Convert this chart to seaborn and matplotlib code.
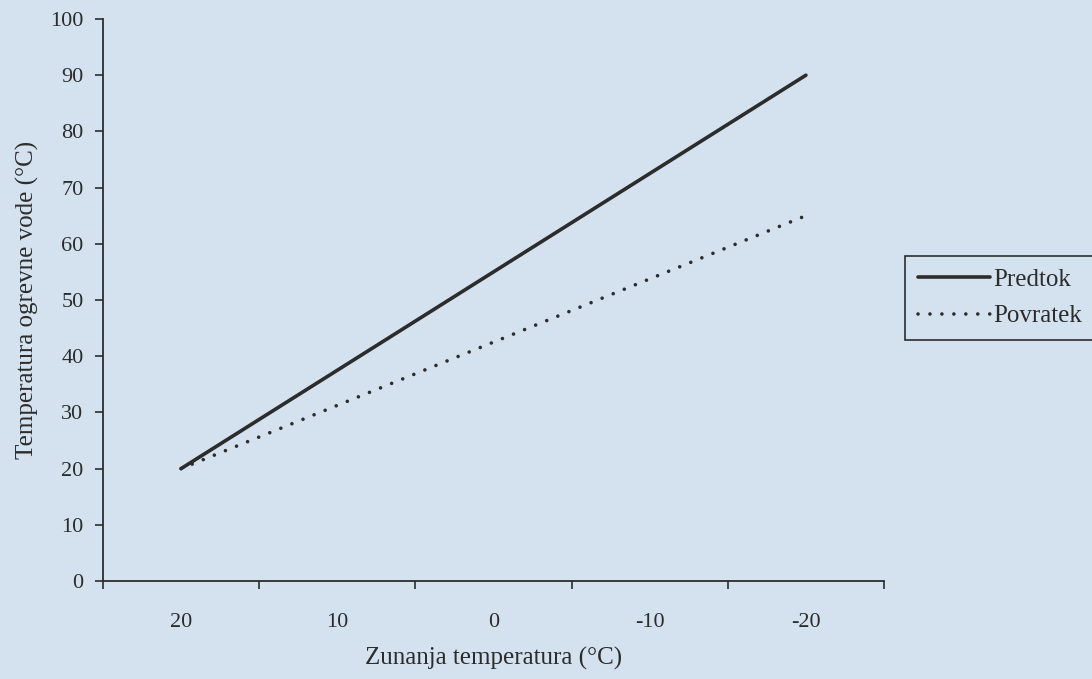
import pandas as pd
import seaborn as sns
import matplotlib.pyplot as plt

# outdoor temperature (categories, reversed axis) and water temperatures
zunanja = [20, 10, 0, -10, -20]
predtok = [20, 37.5, 55, 72.5, 90]
povratek = [20, 31.25, 42.5, 53.75, 65]

df = pd.DataFrame({
    'x': zunanja * 2,
    'y': predtok + povratek,
    'serija': ['Predtok'] * len(zunanja) + ['Povratek'] * len(zunanja),
})

bg = '#d4e2ef'
ink = '#2c2c2c'

sns.set_style('white')
plt.rcParams['font.family'] = ['Liberation Serif', 'DejaVu Serif']
plt.rcParams['lines.dash_capstyle'] = 'round'

fig = plt.figure(figsize=(10.92, 6.79), dpi=100, facecolor=bg)
ax = fig.add_axes([103 / 1092, 1 - 581 / 679, (884 - 103) / 1092, (581 - 19) / 679])
ax.set_facecolor(bg)

sns.lineplot(data=df, x='x', y='y', hue='serija', style='serija',
             palette={'Predtok': ink, 'Povratek': ink},
             dashes={'Predtok': '', 'Povratek': (0.01, 3.3)},
             linewidth=2.6, sort=False, ax=ax)

ax.set_xlim(25, -25)
ax.set_ylim(0, 100)
ax.set_yticks(range(0, 101, 10))
ax.set_xticks(zunanja)
ax.set_xticklabels([str(v) for v in zunanja])
ax.set_xticks([25, 15, 5, -5, -15, -25], minor=True)

ax.tick_params(axis='x', which='major', length=0, pad=23, labelsize=16, colors=ink)
ax.tick_params(axis='x', which='minor', length=6, width=1.2, direction='out', color=ink, bottom=True)
ax.tick_params(axis='y', length=6, width=1.2, direction='out', pad=8, labelsize=16, colors=ink, left=True)

for s in ['top', 'right']:
    ax.spines[s].set_visible(False)
for s in ['left', 'bottom']:
    ax.spines[s].set_color(ink)
    ax.spines[s].set_linewidth(1.3)

ax.set_xlabel('Zunanja temperatura (°C)', fontsize=18, color=ink, labelpad=11)
ax.set_ylabel('Temperatura ogrevne vode (°C)', fontsize=18, color=ink, labelpad=8)

handles, labels = ax.get_legend_handles_labels()
leg = ax.legend(handles, labels, loc='upper left',
                bbox_to_anchor=(905 / 1092, 1 - 256 / 679), bbox_transform=fig.transFigure,
                borderaxespad=0, fontsize=18, handlelength=2.9, handletextpad=0.12,
                frameon=True, fancybox=False, framealpha=1, labelspacing=0.55,
                borderpad=0.5)
leg.get_frame().set_edgecolor(ink)
leg.get_frame().set_facecolor(bg)
leg.get_frame().set_linewidth(1.2)
for t in leg.get_texts():
    t.set_color(ink)

fig.savefig('out.png', dpi=100, facecolor=bg)
